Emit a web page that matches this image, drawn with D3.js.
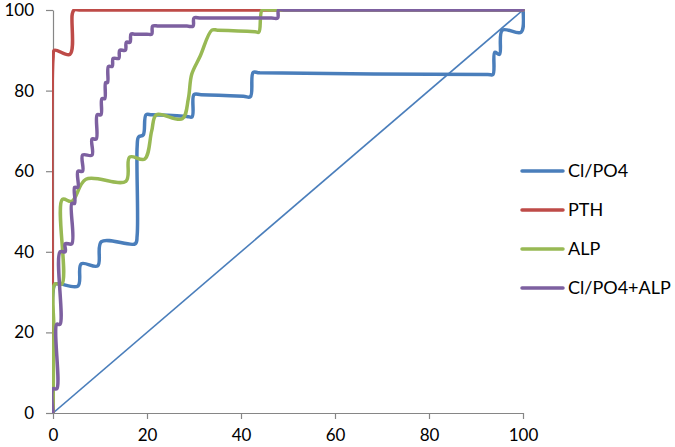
<!DOCTYPE html>
<html>
<head>
<meta charset="utf-8">
<script src="https://cdn.jsdelivr.net/npm/d3@7"></script>
<style>
  html, body { margin: 0; padding: 0; background: #fff; }
  svg { display: block; }
</style>
</head>
<body>
<svg id="chart" width="675" height="447"></svg>
<script>
// ---- Data (1 - specificity %, sensitivity %) ----
const seriesNames = ["Cl/PO4", "PTH", "ALP", "Cl/PO4+ALP"];
const xTicks = [0, 20, 40, 60, 80, 100];
const yTicks = [0, 20, 40, 60, 80, 100];
const diagonal = [[0, 0], [100, 100]];

const clpo4 = [[0,0],[0,1],[0,30],[0.5,32],[5.3,31.5],[6,37],[9.5,36.5],[10.3,42.5],[17.5,42],[17.9,44],
  [17.9,66],[18.2,68.5],[19.2,69],[19.8,74],[21,74],[28.5,73.6],[29.6,73.5],[30,79],[31.5,79],[40.5,78.6],
  [42,78.5],[42.6,84.5],[44,84.4],[92.5,84],[93.6,84],[94,89.5],[95,89],[95.6,95],[99.6,94.5],[100,100]];
const pth = [[0,0],[0,1],[0,88],[0.3,90],[3.6,89],[4.1,99],[4.5,100],[6,100],[100,100]];
const alp = [[0,0],[0.2,20],[0.4,32],[1.9,32],[2,53],[4,52.5],[7,58],[15.5,57.5],[16.3,63.5],[19.5,63],
  [21,70],[22,74],[27.5,73],[28.8,78],[29.5,84],[31.3,88.5],[33.8,95],[35,95],[43,94.6],[43.8,94.5],
  [44.5,100],[46,100],[100,100]];
const clpo4alp = [[0,0],[0,6],[0.8,6],[0.8,22],[1.5,22],[1.5,40],[2.6,40],[2.6,42],[4,42],[4,52],[4.6,52],
  [4.6,56],[5.3,56],[5.3,60],[6.3,60],[6.3,64],[8.3,64],[8.3,68],[9.2,68],[9.4,74],[10.2,74],[10.4,78],
  [11,78],[11.2,82],[11.6,82],[11.8,86],[12.6,86],[12.8,88],[14,88],[14.2,90],[15.4,90],[15.6,92],
  [16.4,92],[16.6,94],[17.5,94],[20,94],[21,94],[21.2,96],[22.5,96],[28.5,96],[29.8,96],[30,98],
  [31.5,98],[46.5,98],[47.8,98],[48,100],[49.5,100],[100,100]];
const seriesData = [clpo4, pth, alp, clpo4alp];
const colors = ["#4A7EBB", "#BE4B48", "#98B954", "#7D60A0"];

// ---- Layout ----
const svg = d3.select("#chart");
const x = d3.scaleLinear().domain([0, 100]).range([53, 523]);
const y = d3.scaleLinear().domain([0, 100]).range([413, 10]);

svg.append("defs").append("clipPath").attr("id", "plotclip")
  .append("rect").attr("x", x(0) - 1).attr("y", y(100) - 1)
  .attr("width", x(100) - x(0) + 3).attr("height", y(0) - y(100) + 1);

// axes
const axisColor = "#868686";
const gx = svg.append("g").attr("transform", `translate(0,${y(0)})`)
  .call(d3.axisBottom(x).tickValues(xTicks).tickSize(6).tickPadding(10).tickSizeOuter(0));
const gy = svg.append("g").attr("transform", `translate(${x(0)},0)`)
  .call(d3.axisLeft(y).tickValues(yTicks).tickSize(7).tickPadding(12).tickSizeOuter(0));
[gx, gy].forEach(g => {
  g.select(".domain").attr("stroke", axisColor).attr("stroke-width", 1.2);
  g.selectAll(".tick line").attr("stroke", axisColor).attr("stroke-width", 1.2);
  g.selectAll(".tick text").attr("fill", "#000").attr("font-family", "Lato, 'Open Sans', sans-serif")
    .attr("font-size", 17);
});

// lines
const plot = svg.append("g").attr("clip-path", "url(#plotclip)");
const straight = d3.line().x(d => x(d[0])).y(d => y(d[1]));
plot.append("path").attr("d", straight(diagonal)).attr("fill", "none")
  .attr("stroke", colors[0]).attr("stroke-width", 1.6);

const smooth = d3.line().x(d => x(d[0])).y(d => y(d[1])).curve(d3.curveCatmullRom.alpha(0.5));
seriesData.forEach((s, i) => {
  plot.append("path").attr("d", smooth(s)).attr("fill", "none")
    .attr("stroke", colors[i]).attr("stroke-width", 3.5)
    .attr("stroke-linejoin", "round").attr("stroke-linecap", "round");
});

// legend
const legend = svg.append("g");
seriesNames.forEach((name, i) => {
  const ly = 171 + i * 39;
  legend.append("line").attr("x1", 522).attr("x2", 563).attr("y1", ly).attr("y2", ly)
    .attr("stroke", colors[i]).attr("stroke-width", 3.5).attr("stroke-linecap", "round");
  legend.append("text").attr("x", 568).attr("y", ly).attr("dy", "0.36em")
    .attr("font-family", "Lato, 'Open Sans', sans-serif").attr("font-size", 18)
    .attr("fill", "#000").text(name);
});
</script>
</body>
</html>
